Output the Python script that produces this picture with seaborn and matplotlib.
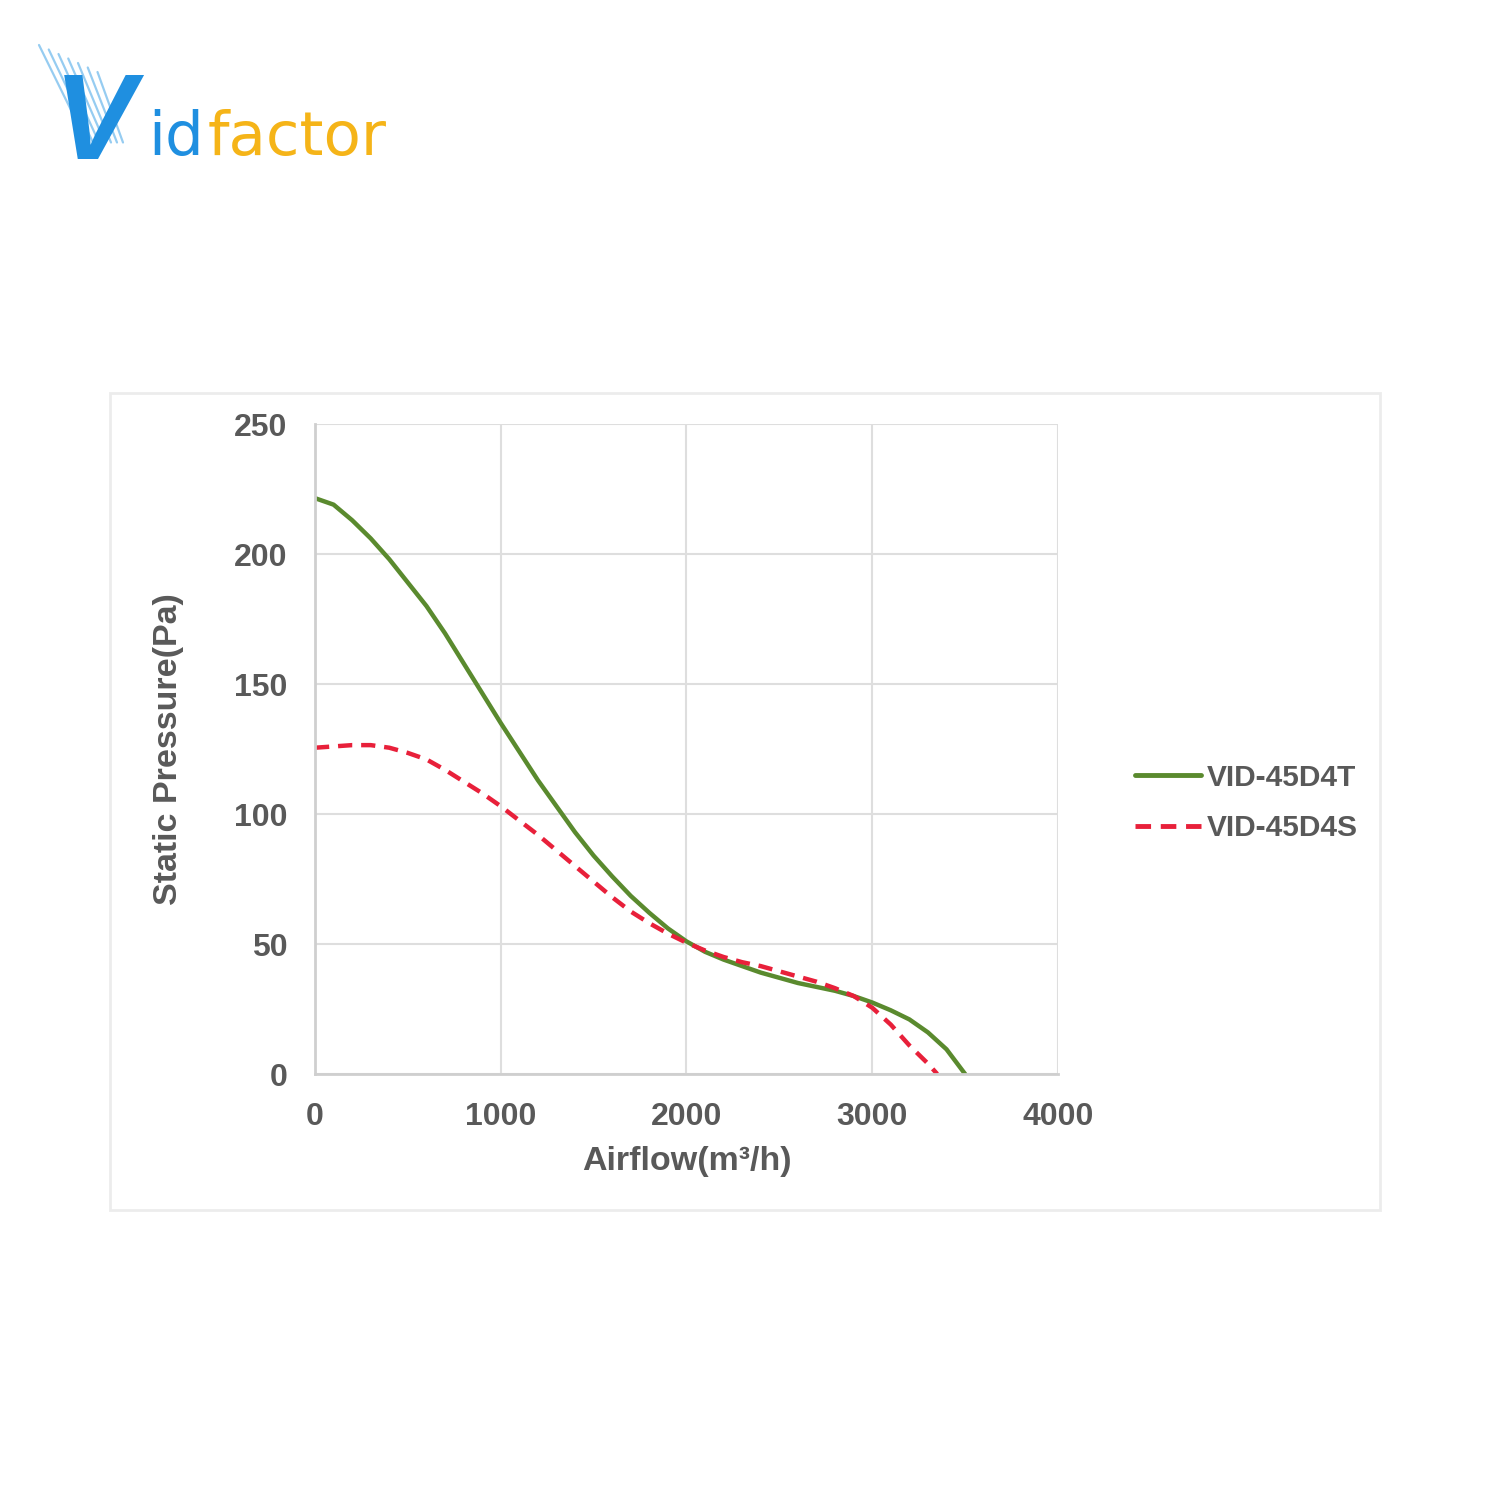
import numpy as np
import pandas as pd
import seaborn as sns
import matplotlib.pyplot as plt
from matplotlib.patches import Rectangle

# Curves (airflow m3/h, static pressure Pa)
airflow_t = [0, 100, 200, 300, 400, 500, 600, 700, 800, 900, 1000, 1100,
             1200, 1300, 1400, 1500, 1600, 1700, 1800, 1900, 2000, 2100,
             2200, 2300, 2400, 2500, 2600, 2700, 2800, 2900, 3000, 3100,
             3200, 3300, 3400, 3500]
pressure_t = [221.5, 219, 213, 206, 198, 189, 180, 169.5, 158, 146.5, 135, 124,
              113, 103, 93, 84, 76, 68.5, 62, 56, 51, 47,
              44, 41.5, 39, 37, 35, 33.5, 32, 30, 27.5, 24.5,
              21, 16, 9.5, 0]

airflow_s = [0, 100, 200, 300, 400, 500, 600, 700, 800, 900, 1000, 1100,
             1200, 1300, 1400, 1500, 1600, 1700, 1800, 1900, 2000, 2100,
             2200, 2300, 2400, 2500, 2600, 2700, 2800, 2900, 3000, 3100,
             3200, 3300, 3350]
pressure_s = [125.5, 126, 126.5, 126.5, 125.5, 123.5, 121, 117, 112.5, 108, 103, 97.5,
              92, 86, 80, 74, 68, 62.5, 58, 54, 50.5, 47.5,
              45, 43, 41.5, 39.5, 37.5, 35.5, 33, 30, 25.5, 19,
              11, 4, 0]

models = ['VID-45D4T', 'VID-45D4S']
x_ticks = [0, 1000, 2000, 3000, 4000]
y_ticks = [0, 50, 100, 150, 200, 250]

df = pd.concat([
    pd.DataFrame({'airflow': airflow_t, 'pressure': pressure_t, 'model': models[0]}),
    pd.DataFrame({'airflow': airflow_s, 'pressure': pressure_s, 'model': models[1]}),
])

sns.set_style('white')
plt.rcParams['font.family'] = ['Liberation Sans', 'DejaVu Sans']
grey = '#595959'

fig = plt.figure(figsize=(15, 15), dpi=100)
ax = fig.add_axes([0.21, 0.284, 0.4953, 0.4333])

# light frame round the chart area
fig.add_artist(Rectangle((110 / 1500, 1 - 1210 / 1500), 1270 / 1500, 817 / 1500,
                         transform=fig.transFigure, fill=False,
                         edgecolor='#ececec', linewidth=2))

sns.lineplot(data=df, x='airflow', y='pressure', hue='model', style='model',
             palette={models[0]: '#5a8a2e', models[1]: '#e8203a'},
             dashes={models[0]: '', models[1]: (3.2, 2)},
             linewidth=3.2, sort=False, ax=ax)

ax.set_xlim(0, 4000)
ax.set_ylim(0, 250)
ax.set_xticks(x_ticks)
ax.set_yticks(y_ticks)
ax.grid(True, color='#dedede', linewidth=1.5)
for s in ['top', 'right']:
    ax.spines[s].set_visible(False)
for s in ['left', 'bottom']:
    ax.spines[s].set_color('#cfcfcf')
    ax.spines[s].set_linewidth(2)
ax.tick_params(axis='y', length=7, width=1.5, color='#cfcfcf', pad=13,
               labelsize=23, labelcolor=grey)
ax.tick_params(axis='x', length=0, pad=20, labelsize=23, labelcolor=grey)
for lab in ax.get_xticklabels() + ax.get_yticklabels():
    lab.set_fontweight('bold')

ax.set_xlabel('Airflow(m³/h)', fontsize=24.5, fontweight='bold', color=grey, labelpad=10)
ax.set_ylabel('Static Pressure(Pa)', fontsize=24.5, fontweight='bold', color=grey, labelpad=36)

leg = ax.legend(loc='center left', bbox_to_anchor=(1108 / 1500, 1 - 803 / 1500),
                bbox_transform=fig.transFigure, frameon=False, fontsize=21.5,
                handlelength=2.2, handletextpad=0.2, labelspacing=0.75)
for t in leg.get_texts():
    t.set_color(grey)
    t.set_fontweight('bold')
for h in leg.get_lines():
    h.set_linewidth(3.5)

# logo
for i in range(7):
    fig.add_artist(plt.Line2D([0.026 + i * 0.0065, 0.058 + i * 0.004],
                              [0.97 - i * 0.003, 0.905],
                              transform=fig.transFigure, color='#7cc0ee',
                              linewidth=1.6, alpha=0.8))
fig.text(0.036, 0.894, 'V', fontsize=88, fontweight='bold', color='#1f8fe0',
         fontstyle='italic')
t_id = fig.text(0.099, 0.897, 'id', fontsize=44, color='#1f8fe0', family='DejaVu Sans')
fig.canvas.draw()
bb = t_id.get_window_extent().transformed(fig.transFigure.inverted())
fig.text(bb.x1 + 0.002, 0.897, 'factor', fontsize=44, color='#f5b418', family='DejaVu Sans')

fig.savefig('out.png', dpi=100)
